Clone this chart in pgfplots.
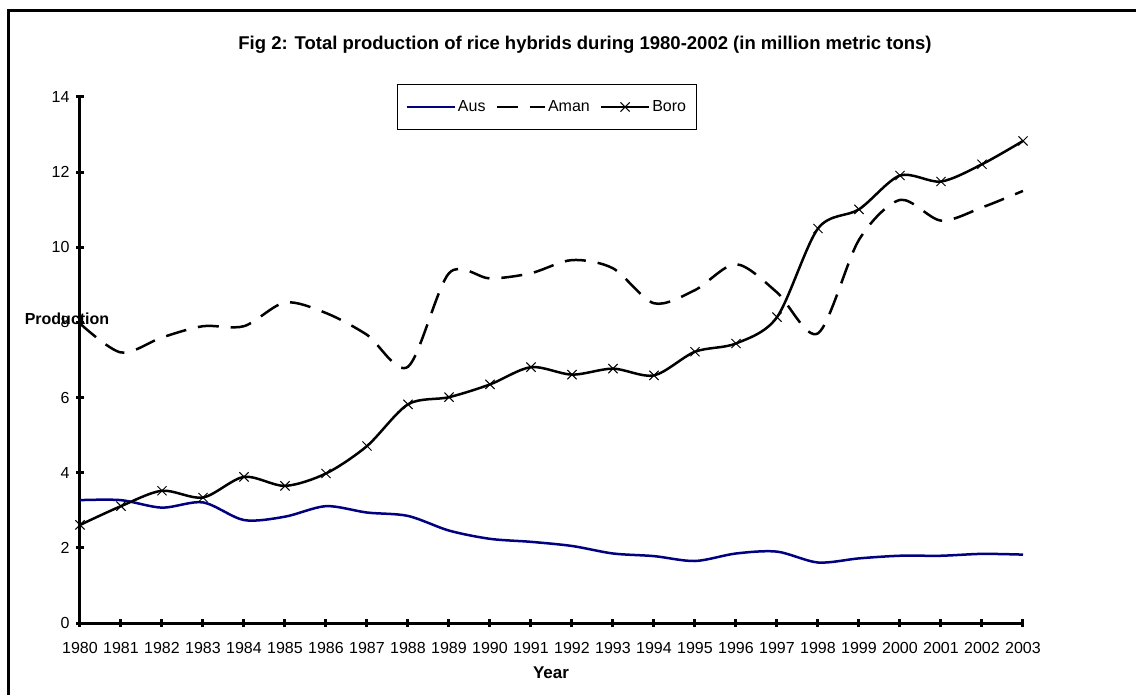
\documentclass[border=0pt]{standalone}
\usepackage{pgfplots}
\pgfplotsset{compat=1.18}
\usepackage{fontspec}
\setmainfont{Liberation Sans}
\definecolor{ausblue}{RGB}{0,0,128}
\pgfplotsset{
  lineleg/.style={legend image code/.code={\draw[##1,mark=none] (0pt,0pt) -- (48pt,0pt);}},
  boroleg/.style={legend image code/.code={\draw[##1,mark=none] (0pt,0pt) -- (48pt,0pt); \draw[##1] plot coordinates {(24pt,0pt)};}},
}
\pgfplotstableread{
year aus aman boro
1980 3.27 7.97 2.61
1981 3.27 7.20 3.11
1982 3.07 7.60 3.52
1983 3.21 7.90 3.34
1984 2.74 7.90 3.89
1985 2.83 8.53 3.65
1986 3.11 8.25 3.98
1987 2.94 7.67 4.71
1988 2.85 6.82 5.82
1989 2.46 9.31 6.01
1990 2.24 9.17 6.35
1991 2.16 9.31 6.81
1992 2.05 9.66 6.61
1993 1.85 9.44 6.77
1994 1.78 8.51 6.59
1995 1.65 8.86 7.22
1996 1.85 9.55 7.44
1997 1.90 8.80 8.14
1998 1.61 7.71 10.50
1999 1.72 10.20 11.01
2000 1.79 11.26 11.91
2001 1.79 10.71 11.75
2002 1.84 11.06 12.21
2003 1.82 11.50 12.83
}\datatable
\begin{document}
\begin{tikzpicture}[x=1pt,y=1pt]
\useasboundingbox (0,0) rectangle (1136,694);
\draw[line width=3pt] (8.5,-5) -- (8.5,683) -- (1145,683);
\node[font=\bfseries\fontsize{18.5}{22}\selectfont] at (585,649) {Fig 2: Total production of rice hybrids during 1980-2002 (in million metric tons)};
\begin{axis}[
  at={(80pt,71pt)}, anchor=south west,
  scale only axis, width=943pt, height=526pt,
  xmin=1980, xmax=2003, ymin=0, ymax=14,
  axis x line*=bottom, axis y line*=left,
  axis line style={line width=3pt},
  xtick={1980,...,2003}, ytick={0,2,...,14},
  tick align=center, major tick length=8pt,
  tick style={line width=3pt, black},
  /pgf/number format/1000 sep={},
  /pgf/number format/assume math mode=true,
  ticklabel style={font=\fontsize{16}{19}\selectfont},
  xticklabel style={yshift=-12pt},
  yticklabel style={xshift=-3pt},
  clip=false,
  legend columns=3,
  legend style={at={(0.495,0.981)}, anchor=center, draw=black, line width=1pt,
    inner xsep=8pt, inner ysep=14pt, font=\fontsize{16}{19}\selectfont,
    /tikz/every even column/.append style={column sep=8pt}},
]
\addplot[ausblue, line width=2.5pt, smooth, lineleg] table[x=year,y=aus] {\datatable};
\addlegendentry{Aus}
\addplot[black, line width=2.5pt, smooth, dash pattern=on 21pt off 12pt, lineleg] table[x=year,y=aman] {\datatable};
\addlegendentry{Aman}
\addplot[black, line width=2.5pt, smooth, mark=x, mark size=6.5pt, mark options={solid, line width=1pt}, boroleg] table[x=year,y=boro] {\datatable};
\addlegendentry{Boro}
\end{axis}
\node[font=\bfseries\fontsize{17}{20}\selectfont] at (551,673) {} ;
\node[font=\bfseries\fontsize{17}{20}\selectfont] at (551,21) {Year};
\node[font=\bfseries\fontsize{16}{19}\selectfont] at (67,375) {Production};
\end{tikzpicture}
\end{document}
